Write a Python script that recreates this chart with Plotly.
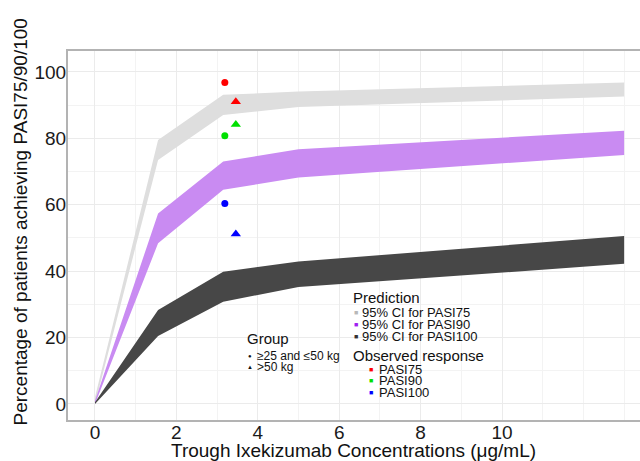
import plotly.graph_objects as go

# ---------------- data ----------------
conc = [0, 1.55, 3.15, 5.0, 13.0]
pasi75_lo = [0, 73.5, 87.0, 89.4, 92.6]
pasi75_hi = [2, 79.5, 93.1, 94.1, 96.8]
pasi90_lo = [0, 48.4, 64.5, 68.2, 75.0]
pasi90_hi = [1, 57.4, 73.0, 76.7, 82.3]
pasi100_lo = [0, 20.5, 30.8, 35.2, 42.2]
pasi100_hi = [0.5, 28.3, 39.8, 42.9, 50.6]

obs_labels = ["PASI75", "PASI90", "PASI100"]
obs_conc_light = [3.19, 3.19, 3.19]      # >=25 and <=50 kg
obs_resp_light = [96.8, 80.8, 60.4]
obs_conc_heavy = [3.46, 3.46, 3.46]      # >50 kg
obs_resp_heavy = [91.0, 84.2, 51.2]

x_ticks = [0, 2, 4, 6, 8, 10]
y_ticks = [0, 20, 40, 60, 80, 100]

# ---------------- style ----------------
FONT = "Liberation Sans, Arial, sans-serif"
band_colors = ["#dedede", "#c98bf2", "#474747"]
obs_colors = ["#ff0000", "#00e000", "#0000ff"]

fig = go.Figure()

bands = [(pasi75_lo, pasi75_hi), (pasi90_lo, pasi90_hi), (pasi100_lo, pasi100_hi)]
for (lo, hi), col in zip(bands, band_colors):
    fig.add_trace(go.Scatter(x=conc, y=lo, mode="lines", line=dict(width=0, color=col),
                             showlegend=False, hoverinfo="skip"))
    fig.add_trace(go.Scatter(x=conc, y=hi, mode="lines", line=dict(width=0, color=col),
                             fill="tonexty", fillcolor=col, showlegend=False, hoverinfo="skip"))

fig.add_trace(go.Scatter(x=obs_conc_light, y=obs_resp_light, mode="markers",
                         marker=dict(symbol="circle", size=7, color=obs_colors),
                         text=obs_labels, showlegend=False))
fig.add_trace(go.Scatter(x=obs_conc_heavy, y=obs_resp_heavy, mode="markers",
                         marker=dict(symbol="triangle-up", size=9, color=obs_colors),
                         text=obs_labels, showlegend=False))

# plot area in pixels
L, R, T, B = 68, 640, 51, 420
W, H = 640, 461


def px(xpix):
    return (xpix - L) / (R - L)


def py(ypix):
    return (B - ypix) / (B - T)


ann = []


def txt(x, y, s, size, color="#111111", xanchor="left", angle=0):
    ann.append(dict(x=px(x), y=py(y), xref="paper", yref="paper", text=s, showarrow=False,
                    xanchor=xanchor, yanchor="middle", textangle=angle,
                    font=dict(family=FONT, size=size, color=color), borderpad=0))


# Group legend
txt(246, 338.3, "Group", 15)
txt(250, 355.5, "●", 6, "#111111", "center")
txt(256, 356.4, "≥25 and ≤50 kg", 12)
txt(250, 367.0, "▲", 6, "#111111", "center")
txt(256, 367.0, ">50 kg", 12)

# Prediction legend
txt(352, 297.7, "Prediction", 15)
pred_labels = ["95% CI for PASI75", "95% CI for PASI90", "95% CI for PASI100"]
pred_key_colors = ["#b8b8b8", "#a020f0", "#333333"]
for i, (lab, kc) in enumerate(zip(pred_labels, pred_key_colors)):
    yy = 312.7 + i * 12
    txt(355.5, yy, "■", 7, kc, "center")
    txt(360.5, yy, lab, 13)

# Observed legend
txt(352, 355.3, "Observed response", 15)
for i, (lab, kc) in enumerate(zip(obs_labels, obs_colors)):
    yy = 369 + i * 11.9
    txt(371, yy, "■", 7, kc, "center")
    txt(378, yy, lab, 13)

# axis titles
txt(20, 222.5, "Percentage of patients achieving PASI75/90/100", 19, "#111111", "center", -90)
txt(353, 451, "Trough Ixekizumab Concentrations (μg/mL)", 19, "#111111", "center")

fig.update_layout(
    width=W, height=H,
    margin=dict(l=L, r=W - R, t=T, b=H - B),
    paper_bgcolor="white", plot_bgcolor="white",
    font=dict(family=FONT, color="#111111"),
    annotations=ann,
    showlegend=False,
)

fig.update_xaxes(
    range=[-0.663, 13.39], tickvals=x_ticks, ticktext=[str(v) for v in x_ticks],
    showgrid=True, gridcolor="#ebebeb", gridwidth=1,
    minor=dict(dtick=1, tick0=0, showgrid=True, gridcolor="#f3f3f3", gridwidth=1),
    zeroline=False, showline=True, linecolor="#b3b3b3", linewidth=2, mirror=True,
    ticks="", tickfont=dict(family=FONT, size=19, color="#1a1a1a"),
    ticklabelstandoff=-6,
    automargin=False,
)
fig.update_yaxes(
    range=[-4.82, 106.3], tickvals=y_ticks, ticktext=[str(v) for v in y_ticks],
    showgrid=True, gridcolor="#ebebeb", gridwidth=1,
    minor=dict(dtick=10, tick0=0, showgrid=True, gridcolor="#f3f3f3", gridwidth=1),
    zeroline=False, showline=True, linecolor="#b3b3b3", linewidth=2, mirror=False,
    ticks="", tickfont=dict(family=FONT, size=19, color="#1a1a1a"),
    ticklabelstandoff=-4,
    automargin=False,
)

fig.write_html("out.html", config={"displayModeBar": False},
               post_script="document.body.style.margin='0px';")
